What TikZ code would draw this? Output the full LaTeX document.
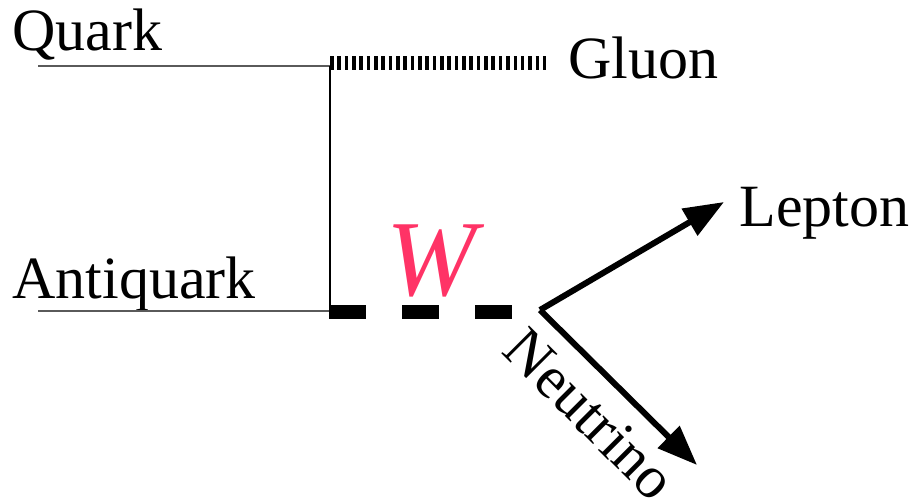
\documentclass[tikz,border=0pt]{standalone}
\usepackage{fontspec}
\setmainfont{Liberation Serif}
\usetikzlibrary{arrows.meta}
\definecolor{wpink}{RGB}{255,51,102}
\definecolor{linegray}{RGB}{90,90,90}
\tikzset{
  lbl/.style={inner sep=0pt, anchor=base west, font=\fontsize{30}{36}\selectfont},
  thinline/.style={line width=0.75pt, linegray},
  gluonline/.style={line width=7pt, dash pattern=on 1.8pt off 1.87pt, line cap=butt},
  wline/.style={line width=7pt, dash pattern=on 18.5pt off 18pt, line cap=butt},
  outarrow/.style={line width=3pt, -{Triangle[length=20pt, width=15pt]}}
}
\begin{document}
\begin{tikzpicture}[x=0.5pt, y=-0.5pt]
\useasboundingbox (0,0) rectangle (914,502);
% coordinates
\coordinate (qL) at (38,66);
\coordinate (qV) at (330,66);
\coordinate (aL) at (38,311);
\coordinate (aV) at (330,311);
\coordinate (g0) at (330,63);
\coordinate (g1) at (550,63);
\coordinate (w0) at (329,312);
\coordinate (w1) at (513,312);
\coordinate (v) at (540,310);
\coordinate (lt) at (724,202);
\coordinate (nt) at (697,465);
% labels
\node[lbl] (quark) at (12,51) {Quark};
\node[lbl] (antiquark) at (12,298) {Antiquark};
\node[lbl] (gluon) at (568,79) {Gluon};
\node[lbl] (lepton) at (739,227) {Lepton};
\node[inner sep=0pt, rotate=-45, font=\fontsize{30}{36}\selectfont] (neutrino) at (590,414) {Neutrino};
\node[inner sep=0pt, anchor=base, text=wpink, font=\fontsize{54}{60}\selectfont\itshape] (wlab) at (431,295) {W};
% lines
\draw[thinline] (qL) -- (qV);
\draw[thinline] (aL) -- (aV);
\draw[line width=0.75pt, black] (qV) -- (aV);
\draw[gluonline] (g0) -- (g1);
\draw[wline] (w0) -- (w1);
\draw[outarrow] (v) -- (lt);
\draw[outarrow] (v) -- (nt);
\end{tikzpicture}
\end{document}
